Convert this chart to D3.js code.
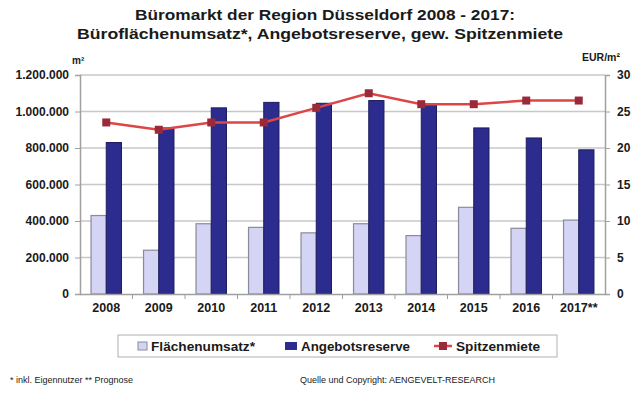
<!DOCTYPE html>
<html>
<head>
<meta charset="utf-8">
<script src="https://cdn.jsdelivr.net/npm/d3@7"></script>
<style>
  body { margin: 0; background: #fff; }
  text { font-family: "Liberation Sans", Arial, sans-serif; fill: #1a1a1a; }
</style>
</head>
<body>
<svg id="chart" width="640" height="394"></svg>
<script>
// chart data
var years = ["2008", "2009", "2010", "2011", "2012", "2013", "2014", "2015", "2016", "2017**"];
var flaechenumsatz = [430000, 240000, 385000, 365000, 335000, 385000, 320000, 475000, 360000, 405000];
var angebotsreserve = [830000, 910000, 1020000, 1050000, 1045000, 1060000, 1035000, 910000, 855000, 790000];
var spitzenmiete = [23.5, 22.5, 23.5, 23.5, 25.5, 27.5, 26, 26, 26.5, 26.5];
var leftTicks = [0, 200000, 400000, 600000, 800000, 1000000, 1200000];
var rightTicks = [0, 5, 10, 15, 20, 25, 30];

var svg = d3.select("#chart");
var plotLeft = 80, plotRight = 605, plotTop = 75, plotBottom = 294;

var x = d3.scaleBand()
  .domain(years)
  .range([plotLeft, plotRight])
  .paddingInner(0.42)
  .paddingOuter(0.21);

var xSeries = d3.scaleBand()
  .domain(["umsatz", "reserve"])
  .range([0, x.bandwidth()]);

var yLeft = d3.scaleLinear().domain([0, 1200000]).range([plotBottom, plotTop]);
var yRight = d3.scaleLinear().domain([0, 30]).range([plotBottom, plotTop]);

var fmt = function(v) { return d3.format(",")(v).replace(/,/g, "."); };

// title
svg.append("text")
  .attr("x", 325).attr("y", 20)
  .attr("text-anchor", "middle")
  .attr("textLength", 380).attr("lengthAdjust", "spacingAndGlyphs")
  .style("font-size", "15px").style("font-weight", "bold")
  .text("Büromarkt der Region Düsseldorf 2008 - 2017:");
svg.append("text")
  .attr("x", 320).attr("y", 39)
  .attr("text-anchor", "middle")
  .attr("textLength", 486).attr("lengthAdjust", "spacingAndGlyphs")
  .style("font-size", "15px").style("font-weight", "bold")
  .text("Büroflächenumsatz*, Angebotsreserve, gew. Spitzenmiete");

// gridlines
svg.append("g")
  .selectAll("line")
  .data(leftTicks.slice(1))
  .enter()
  .append("line")
  .attr("x1", plotLeft).attr("x2", plotRight)
  .attr("y1", function(d) { return yLeft(d); })
  .attr("y2", function(d) { return yLeft(d); })
  .attr("stroke", "#c8c8c8")
  .attr("stroke-width", 1.5);

// left axis
var gLeft = svg.append("g")
  .attr("transform", "translate(" + plotLeft + ",0)")
  .call(d3.axisLeft(yLeft).tickValues(leftTicks).tickFormat(fmt).tickSize(5).tickPadding(6));
gLeft.selectAll("text").style("font-size", "12px").style("font-weight", "bold");

// right axis
var gRight = svg.append("g")
  .attr("transform", "translate(" + plotRight + ",0)")
  .call(d3.axisRight(yRight).tickValues(rightTicks).tickSize(5).tickPadding(7));
gRight.selectAll("text").style("font-size", "12px").style("font-weight", "bold");

[gLeft, gRight].forEach(function(g) {
  g.select(".domain").attr("stroke", "#a0a0a0").attr("stroke-width", 1.5);
  g.selectAll(".tick line").attr("stroke", "#a0a0a0");
});

// bars
var groups = svg.append("g")
  .selectAll("g")
  .data(years)
  .enter()
  .append("g")
  .attr("transform", function(d) { return "translate(" + x(d) + ",0)"; });

groups.append("rect")
  .attr("x", xSeries("umsatz"))
  .attr("width", xSeries.bandwidth())
  .attr("y", function(d, i) { return yLeft(flaechenumsatz[i]); })
  .attr("height", function(d, i) { return plotBottom - yLeft(flaechenumsatz[i]); })
  .attr("fill", "#d4d4f4")
  .attr("stroke", "#8a8a9a")
  .attr("stroke-width", 1.2);

groups.append("rect")
  .attr("x", xSeries("reserve"))
  .attr("width", xSeries.bandwidth())
  .attr("y", function(d, i) { return yLeft(angebotsreserve[i]); })
  .attr("height", function(d, i) { return plotBottom - yLeft(angebotsreserve[i]); })
  .attr("fill", "#2c2c8e")
  .attr("stroke", "#1c1c5e")
  .attr("stroke-width", 1);

// x axis
var gx = svg.append("g")
  .attr("transform", "translate(0," + plotBottom + ")")
  .call(d3.axisBottom(x).tickSize(0).tickPadding(9));
gx.select(".domain").attr("stroke", "#a0a0a0").attr("stroke-width", 1.5);
gx.selectAll("text").style("font-size", "12.5px").style("font-weight", "bold");
// tick marks between categories
gx.selectAll(".sep")
  .data(years.slice(1))
  .enter()
  .append("line")
  .attr("x1", function(d) { return x(d) - x.step() * x.paddingInner() / 2; })
  .attr("x2", function(d) { return x(d) - x.step() * x.paddingInner() / 2; })
  .attr("y1", 0).attr("y2", 5)
  .attr("stroke", "#a0a0a0");

// line
var line = d3.line()
  .x(function(d, i) { return x(years[i]) + x.bandwidth() / 2; })
  .y(function(d) { return yRight(d); });

svg.append("path")
  .datum(spitzenmiete)
  .attr("d", line)
  .attr("fill", "none")
  .attr("stroke", "#dc4646")
  .attr("stroke-width", 2.5);

svg.append("g")
  .selectAll("rect")
  .data(spitzenmiete)
  .enter()
  .append("rect")
  .attr("x", function(d, i) { return x(years[i]) + x.bandwidth() / 2 - 4; })
  .attr("y", function(d) { return yRight(d) - 4; })
  .attr("width", 8).attr("height", 8)
  .attr("fill", "#9a2a3a");

// unit labels
svg.append("text")
  .attr("x", 72).attr("y", 64)
  .style("font-size", "10px").style("font-weight", "bold")
  .text("m²");
svg.append("text")
  .attr("x", 582).attr("y", 61)
  .style("font-size", "10.5px").style("font-weight", "bold")
  .text("EUR/m²");

// legend
var legend = svg.append("g");
legend.append("rect")
  .attr("x", 118).attr("y", 335)
  .attr("width", 439).attr("height", 22)
  .attr("fill", "#fff")
  .attr("stroke", "#b0b0b0");

legend.append("rect")
  .attr("x", 138).attr("y", 342).attr("width", 9).attr("height", 8)
  .attr("fill", "#d4d4f4").attr("stroke", "#8a8a9a");
legend.append("text")
  .attr("x", 151).attr("y", 351)
  .attr("textLength", 104).attr("lengthAdjust", "spacingAndGlyphs")
  .style("font-size", "12.5px").style("font-weight", "bold")
  .text("Flächenumsatz*");

legend.append("rect")
  .attr("x", 285).attr("y", 342).attr("width", 12).attr("height", 8)
  .attr("fill", "#2c2c8e");
legend.append("text")
  .attr("x", 301).attr("y", 351)
  .attr("textLength", 109).attr("lengthAdjust", "spacingAndGlyphs")
  .style("font-size", "12.5px").style("font-weight", "bold")
  .text("Angebotsreserve");

legend.append("line")
  .attr("x1", 434).attr("x2", 452).attr("y1", 346).attr("y2", 346)
  .attr("stroke", "#dc4646").attr("stroke-width", 2.5);
legend.append("rect")
  .attr("x", 439).attr("y", 342).attr("width", 8).attr("height", 8)
  .attr("fill", "#9a2a3a");
legend.append("text")
  .attr("x", 456).attr("y", 351)
  .attr("textLength", 84).attr("lengthAdjust", "spacingAndGlyphs")
  .style("font-size", "12.5px").style("font-weight", "bold")
  .text("Spitzenmiete");

// footnotes
svg.append("text")
  .attr("x", 10).attr("y", 383)
  .style("font-size", "9px")
  .text("* inkl. Eigennutzer ** Prognose");
svg.append("text")
  .attr("x", 300).attr("y", 383)
  .style("font-size", "9px")
  .text("Quelle und Copyright: AENGEVELT-RESEARCH");
</script>
</body>
</html>
